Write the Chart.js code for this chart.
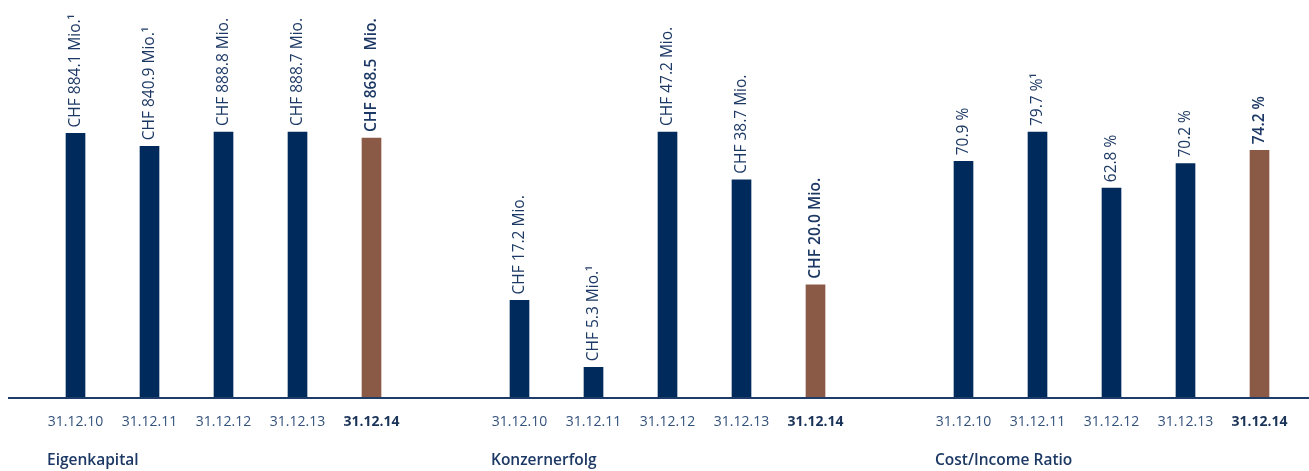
<!DOCTYPE html>
<html>
<head>
<meta charset="utf-8">
<script src="https://cdn.jsdelivr.net/npm/chart.js@4.4.1/dist/chart.umd.min.js"></script>
<style>
  html, body { margin: 0; padding: 0; background: #fff; }
  #wrap { width: 1309px; height: 471px; position: relative; }
</style>
</head>
<body>
<div id="wrap"><canvas id="kennzahlen"></canvas></div>
<script>
// Stichtage und Kennzahlen
const dates = ['31.12.10', '31.12.11', '31.12.12', '31.12.13', '31.12.14'];
const groupNames = ['Eigenkapital', 'Konzernerfolg', 'Cost/Income Ratio'];

const eigenkapital = [884.1, 840.9, 888.8, 888.7, 868.5];
const konzernerfolg = [17.2, 5.3, 47.2, 38.7, 20.0];
const costIncome = [70.9, 79.7, 62.8, 70.2, 74.2];

const eigenkapitalLabels = ['CHF 884.1 Mio.¹', 'CHF 840.9 Mio.¹', 'CHF 888.8 Mio.', 'CHF 888.7 Mio.', 'CHF 868.5  Mio.'];
const konzernerfolgLabels = ['CHF 17.2 Mio.', 'CHF 5.3 Mio.¹', 'CHF 47.2 Mio.', 'CHF 38.7 Mio.', 'CHF 20.0 Mio.'];
const costIncomeLabels = ['70.9 %', '79.7 %¹', '62.8 %', '70.2 %', '74.2 %'];

const NAVY = '#002a5c';
const BROWN = '#8b5a47';
const TEXT = '#1c3864';
const FONT = "'Open Sans', 'Noto Sans', sans-serif";

// 5 Balken pro Gruppe, eine leere Spalte dazwischen
const slots = [];
groupNames.forEach(function(g, gi) {
    if (gi > 0) slots.push('');
    dates.forEach(function(d) { slots.push(d); });
});

function spread(values, gi) {
    const out = slots.map(function() { return null; });
    values.forEach(function(v, i) { out[gi * 6 + i] = v; });
    return out;
}

const series = [eigenkapital, konzernerfolg, costIncome];
const seriesLabels = [eigenkapitalLabels, konzernerfolgLabels, costIncomeLabels];
const headroom = 397 / 265; // höchster Balken jeder Gruppe gleich hoch

const datasets = series.map(function(values, gi) {
    return {
        label: groupNames[gi],
        data: spread(values, gi),
        yAxisID: 'y' + gi,
        grouped: false,
        barThickness: 19,
        backgroundColor: function(c) { return (c.dataIndex % 6 === 4) ? BROWN : NAVY; },
        borderWidth: 0
    };
});

const axisLine = {
    id: 'axisLine',
    afterDatasetsDraw: function(chart) {
        const c = chart.ctx, a = chart.chartArea;
        c.save();
        c.strokeStyle = '#1e3c6a';
        c.lineWidth = 2;
        c.beginPath();
        c.moveTo(8, a.bottom + 1);
        c.lineTo(chart.width, a.bottom + 1);
        c.stroke();
        c.restore();
    }
};

const valueLabels = {
    id: 'valueLabels',
    afterDatasetsDraw: function(chart) {
        const c = chart.ctx;
        c.save();
        chart.data.datasets.forEach(function(ds, gi) {
            const meta = chart.getDatasetMeta(gi);
            seriesLabels[gi].forEach(function(txt, i) {
                const bar = meta.data[gi * 6 + i];
                c.save();
                c.translate(bar.x, bar.y - 6);
                c.rotate(-Math.PI / 2);
                c.font = (i === 4 ? '600 ' : '400 ') + '15.5px ' + FONT;
                c.fillStyle = TEXT;
                c.textAlign = 'left';
                c.textBaseline = 'middle';
                c.fillText(txt, 0, 0);
                c.restore();
            });
        });
        c.restore();
    }
};

const groupTitles = {
    id: 'groupTitles',
    afterDraw: function(chart) {
        const c = chart.ctx, x = chart.scales.x;
        c.save();
        c.font = '600 15.5px ' + FONT;
        c.fillStyle = TEXT;
        c.textAlign = 'left';
        c.textBaseline = 'middle';
        groupNames.forEach(function(g, gi) {
            c.fillText(g, x.getPixelForValue(gi * 6) - 28.5, 461);
        });
        c.restore();
    }
};

const scales = {
    x: {
        grid: { display: false, drawTicks: false },
        border: { display: false },
        afterFit: function(s) { s.height = 74; },
        ticks: {
            autoSkip: false,
            maxRotation: 0,
            padding: 17,
            color: function(c) { return (c.index % 6 === 4) ? '#1a3358' : '#34527c'; },
            font: function(c) {
                return { family: FONT, size: 14, weight: (c.index % 6 === 4) ? '700' : '400' };
            }
        }
    }
};
series.forEach(function(values, gi) {
    scales['y' + gi] = {
        display: false,
        min: 0,
        max: Math.max.apply(null, values) * headroom
    };
});

new Chart(document.getElementById('kennzahlen').getContext('2d'), {
    type: 'bar',
    data: { labels: slots, datasets: datasets },
    options: {
        responsive: true,
        maintainAspectRatio: false,
        animation: false,
        layout: { padding: { left: 38.5, right: 12.5, top: 0, bottom: 0 } },
        plugins: { legend: { display: false }, tooltip: { enabled: false } },
        scales: scales
    },
    plugins: [axisLine, valueLabels, groupTitles]
});
</script>
</body>
</html>
